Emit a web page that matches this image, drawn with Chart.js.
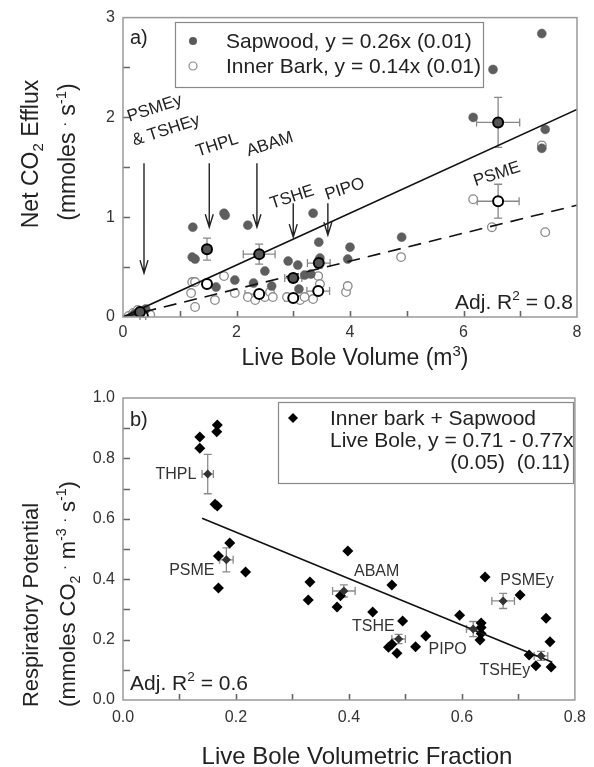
<!DOCTYPE html>
<html>
<head>
<meta charset="utf-8">
<script src="https://cdn.jsdelivr.net/npm/chart.js@4.4.1/dist/chart.umd.min.js"></script>
<style>
  body { margin: 0; background: #fff; }
  #wrap { position: relative; width: 594px; height: 767px; }
  canvas { position: absolute; left: 0; }
  #chartA { top: 0; }
  #chartB { top: 380px; }
</style>
</head>
<body>
<div id="wrap">
  <canvas id="chartA" width="594" height="380"></canvas>
  <canvas id="chartB" width="594" height="387"></canvas>
</div>
<script>
const FONT = '"Liberation Sans", Arial, sans-serif';

// ---- panel a: net CO2 efflux vs live bole volume ----
const sapX = [0.20, 0.30, 0.40, 1.23, 1.78, 1.80, 2.20, 1.22, 1.27, 1.97, 1.64, 2.30, 2.50, 2.62, 2.91, 3.08, 3.10, 3.20, 3.31, 3.35, 3.45, 3.47, 3.96, 4.00, 4.91, 6.17, 6.52, 7.38, 7.44, 7.38];
const sapY = [0.03, 0.06, 0.08, 0.90, 1.04, 1.02, 0.92, 0.60, 0.58, 0.37, 0.30, 0.34, 0.46, 0.31, 0.56, 0.52, 0.28, 0.42, 0.43, 1.04, 0.75, 0.59, 0.58, 0.70, 0.80, 2.00, 2.48, 2.84, 1.88, 1.69];
const innerX = [0.10, 0.18, 0.26, 0.40, 0.48, 1.22, 1.27, 1.20, 1.27, 1.62, 1.78, 1.97, 2.20, 2.33, 2.50, 2.59, 2.64, 2.89, 3.12, 3.20, 3.35, 3.44, 3.47, 3.93, 3.96, 4.90, 6.17, 6.50, 7.44, 7.38];
const innerY = [0.01, 0.04, 0.07, 0.05, 0.02, 0.35, 0.35, 0.24, 0.10, 0.17, 0.41, 0.24, 0.20, 0.17, 0.20, 0.25, 0.20, 0.20, 0.17, 0.20, 0.18, 0.41, 0.33, 0.25, 0.31, 0.60, 1.18, 0.90, 0.85, 1.72];

const speciesA = ['PSMEy', 'THPL', 'ABAM', 'TSHE', 'PIPO', 'PSME'];
const sapMeanX = [0.30, 1.48, 2.40, 3.00, 3.45, 6.61];
const sapMeanY = [0.05, 0.68, 0.63, 0.39, 0.54, 1.95];
const sapMeanXErr = [0.05, 0.07, 0.28, 0.15, 0.20, 0.38];
const sapMeanYErr = [0.02, 0.11, 0.10, 0.04, 0.05, 0.25];
const innerMeanX = [0.35, 1.48, 2.40, 3.00, 3.44, 6.61];
const innerMeanY = [0.01, 0.33, 0.23, 0.19, 0.26, 1.16];
const innerMeanXErr = [0.05, 0.07, 0.25, 0.15, 0.20, 0.37];
const innerMeanYErr = [0.01, 0.03, 0.03, 0.02, 0.03, 0.17];

const fitAX = [0, 8];
const fitSapY = [0, 2.08];
const fitInnerY = [0, 1.12];

const arrowX = [0.37, 1.52, 2.36, 3.00, 3.61];
const arrowTop = [1.54, 1.54, 1.54, 1.14, 1.14];
const arrowTip = [0.44, 0.90, 0.90, 0.80, 0.82];

const labA = ['PSMEy', '& TSHEy', 'THPL', 'ABAM', 'TSHE', 'PIPO', 'PSME'];
const labAX = [0.56, 0.76, 1.66, 2.59, 2.98, 3.91, 6.59];
const labAY = [2.09, 1.87, 1.72, 1.73, 1.20, 1.28, 1.43];

const xTicksA = [0, 2, 4, 6, 8];
const yTicksA = [0, 1, 2, 3];
const xMarksA = [1, 2, 3, 4, 5, 6, 7];
const yMarksA = [0.5, 1, 1.5, 2, 2.5];

// ---- panel b: respiratory potential vs volumetric fraction ----
const bolX = [0.136, 0.136, 0.167, 0.166, 0.167, 0.163, 0.189, 0.169, 0.169, 0.217, 0.331, 0.328, 0.398, 0.385, 0.379, 0.442, 0.476, 0.495, 0.470, 0.476, 0.485, 0.518, 0.536, 0.596, 0.634, 0.634, 0.634, 0.632, 0.641, 0.703, 0.749, 0.756, 0.719, 0.731, 0.758];
const bolY = [0.871, 0.834, 0.911, 0.888, 0.642, 0.648, 0.520, 0.477, 0.371, 0.424, 0.391, 0.331, 0.493, 0.345, 0.308, 0.291, 0.381, 0.262, 0.175, 0.185, 0.155, 0.176, 0.212, 0.281, 0.255, 0.240, 0.220, 0.199, 0.407, 0.348, 0.271, 0.193, 0.149, 0.113, 0.109];

const speciesB = ['THPL', 'PSME', 'ABAM', 'TSHE', 'PIPO', 'PSMEy', 'TSHEy'];
const bolMeanX = [0.150, 0.183, 0.391, 0.488, 0.620, 0.673, 0.740];
const bolMeanY = [0.748, 0.464, 0.361, 0.202, 0.235, 0.328, 0.146];
const bolMeanXErr = [0.010, 0.012, 0.020, 0.012, 0.012, 0.020, 0.012];
const bolMeanYErr = [0.065, 0.040, 0.020, 0.015, 0.025, 0.025, 0.015];

const fitBX = [0.14, 0.76];
const fitBY = [0.602, 0.125];

const labBX = [0.130, 0.162, 0.409, 0.481, 0.541, 0.668, 0.721];
const labBY = [0.745, 0.430, 0.424, 0.242, 0.166, 0.397, 0.099];
const labBAlign = ['right', 'right', 'left', 'right', 'left', 'left', 'right'];

const xTicksB = [0, 0.2, 0.4, 0.6, 0.8];
const yTicksB = [0, 0.2, 0.4, 0.6, 0.8, 1.0];
const xMarksB = [0.1, 0.2, 0.3, 0.4, 0.5, 0.6, 0.7];
const yMarksB = [0.1, 0.2, 0.3, 0.4, 0.5, 0.6, 0.7, 0.8, 0.9];

function pts(xs, ys) {
    return xs.map((x, i) => ({ x: x, y: ys[i] }));
}

// text with sub/superscripts, centred on (x, y)
function richText(ctx, parts, x, y, size, rot) {
    ctx.save();
    ctx.translate(x, y);
    ctx.rotate(rot || 0);
    ctx.textAlign = 'left';
    ctx.textBaseline = 'alphabetic';
    let w = 0;
    const widths = parts.map(p => {
        ctx.font = (p[1] ? size * 0.65 : size) + 'px ' + FONT;
        const pw = ctx.measureText(p[0]).width;
        w += pw;
        return pw;
    });
    let cx = -w / 2;
    parts.forEach((p, i) => {
        ctx.font = (p[1] ? size * 0.65 : size) + 'px ' + FONT;
        let dy = 0;
        if (p[1] === 'sub') dy = size * 0.22;
        if (p[1] === 'sup') dy = -size * 0.42;
        ctx.fillText(p[0], cx, size * 0.36 + dy);
        cx += widths[i];
    });
    ctx.restore();
}

function drawFrame(chart, xMarks, yMarks) {
    const ctx = chart.ctx, a = chart.chartArea;
    const xs = chart.scales.x, ys = chart.scales.y;
    ctx.save();
    ctx.strokeStyle = '#666';
    ctx.lineWidth = 1.6;
    ctx.beginPath();
    xMarks.forEach(v => {
        const px = Math.round(xs.getPixelForValue(v)) + 0.5;
        ctx.moveTo(px, a.bottom);
        ctx.lineTo(px, a.bottom - 6);
    });
    yMarks.forEach(v => {
        const py = Math.round(ys.getPixelForValue(v)) + 0.5;
        ctx.moveTo(a.left, py);
        ctx.lineTo(a.left + 7, py);
    });
    ctx.stroke();
    ctx.strokeStyle = '#999';
    ctx.lineWidth = 1.5;
    ctx.strokeRect(a.left, a.top, a.right - a.left, a.bottom - a.top);
    ctx.restore();
}

function errorBars(chart, mx, my, ex, ey, color) {
    const ctx = chart.ctx, xs = chart.scales.x, ys = chart.scales.y;
    ctx.save();
    ctx.strokeStyle = color;
    ctx.lineWidth = 1.3;
    ctx.beginPath();
    mx.forEach((x, i) => {
        const px = xs.getPixelForValue(x), py = ys.getPixelForValue(my[i]);
        const x0 = xs.getPixelForValue(x - ex[i]), x1 = xs.getPixelForValue(x + ex[i]);
        const y0 = ys.getPixelForValue(my[i] - ey[i]), y1 = ys.getPixelForValue(my[i] + ey[i]);
        ctx.moveTo(x0, py); ctx.lineTo(x1, py);
        ctx.moveTo(x0, py - 4); ctx.lineTo(x0, py + 4);
        ctx.moveTo(x1, py - 4); ctx.lineTo(x1, py + 4);
        ctx.moveTo(px, y0); ctx.lineTo(px, y1);
        ctx.moveTo(px - 4, y0); ctx.lineTo(px + 4, y0);
        ctx.moveTo(px - 4, y1); ctx.lineTo(px + 4, y1);
    });
    ctx.stroke();
    ctx.restore();
}

const tickFont = size => ({ size: size, family: FONT });

function axes(xMin, xMax, yMin, yMax, xTicks, yTicks, yWidth, xHeight, size, digits, xPad) {
    const fmt = v => digits ? v.toFixed(digits) : String(v);
    return {
        x: {
            type: 'linear', min: xMin, max: xMax,
            afterBuildTicks: s => { s.ticks = xTicks.map(v => ({ value: v })); },
            afterFit: s => { s.height = xHeight; },
            grid: { display: false, drawTicks: false, tickLength: 0 },
            border: { display: false },
            ticks: { color: '#333', font: tickFont(size), padding: xPad, maxRotation: 0, callback: fmt }
        },
        y: {
            type: 'linear', min: yMin, max: yMax,
            afterBuildTicks: s => { s.ticks = yTicks.map(v => ({ value: v })); },
            afterFit: s => { s.width = yWidth; },
            grid: { display: false, drawTicks: false, tickLength: 0 },
            border: { display: false },
            ticks: { color: '#333', font: tickFont(size), padding: 8, callback: fmt }
        }
    };
}

// ---------------- chart a ----------------
const decorA = {
    id: 'decorA',
    beforeDatasetsDraw(chart) {
        errorBars(chart, sapMeanX, sapMeanY, sapMeanXErr, sapMeanYErr, '#888');
        errorBars(chart, innerMeanX, innerMeanY, innerMeanXErr, innerMeanYErr, '#888');
    },
    afterDatasetsDraw(chart) {
        const ctx = chart.ctx, xs = chart.scales.x, ys = chart.scales.y;
        drawFrame(chart, xMarksA, yMarksA);

        // arrows
        ctx.save();
        ctx.strokeStyle = '#222';
        ctx.lineWidth = 1.4;
        ctx.beginPath();
        arrowX.forEach((x, i) => {
            const px = xs.getPixelForValue(x);
            const top = ys.getPixelForValue(arrowTop[i]), tip = ys.getPixelForValue(arrowTip[i]);
            ctx.moveTo(px, top); ctx.lineTo(px, tip);
            ctx.moveTo(px - 4, tip - 13); ctx.lineTo(px, tip); ctx.lineTo(px + 4, tip - 13);
        });
        ctx.stroke();

        // species labels
        ctx.fillStyle = '#222';
        ctx.font = '17px ' + FONT;
        ctx.textAlign = 'center';
        ctx.textBaseline = 'middle';
        labA.forEach((t, i) => {
            ctx.save();
            ctx.translate(xs.getPixelForValue(labAX[i]), ys.getPixelForValue(labAY[i]));
            ctx.rotate(-18 * Math.PI / 180);
            ctx.fillText(t, 0, 0);
            ctx.restore();
        });

        // legend
        ctx.fillStyle = '#fff';
        ctx.fillRect(175, 22, 308, 65);
        ctx.strokeStyle = '#888';
        ctx.lineWidth = 1.2;
        ctx.strokeRect(175.5, 22.5, 308, 65);
        ctx.fillStyle = '#5a5a5a';
        ctx.beginPath(); ctx.arc(193, 41, 4, 0, Math.PI * 2); ctx.fill();
        ctx.fillStyle = '#fff';
        ctx.strokeStyle = '#888';
        ctx.beginPath(); ctx.arc(193, 66, 4, 0, Math.PI * 2); ctx.fill(); ctx.stroke();
        ctx.fillStyle = '#222';
        ctx.font = '21px ' + FONT;
        ctx.textAlign = 'left';
        ctx.fillText('Sapwood, y = 0.26x (0.01)', 226, 42);
        ctx.fillText('Inner Bark, y = 0.14x (0.01)', 226, 67);

        ctx.font = '20px ' + FONT;
        ctx.fillText('a)', 130, 38);
        ctx.restore();

        ctx.fillStyle = '#222';
        richText(ctx, [['Adj. R'], ['2', 'sup'], [' = 0.8']], 514, 301, 21, 0);

        // axis titles
        richText(ctx, [['Net CO'], ['2', 'sub'], [' Efflux']], 30, 154, 23, -Math.PI / 2);
        richText(ctx, [['(mmoles '], ['.', 'sup'], [' s'], ['-1', 'sup'], [')']], 67, 152, 23, -Math.PI / 2);
        richText(ctx, [['Live Bole Volume (m'], ['3', 'sup'], [')']], 355, 357, 23, 0);
    }
};

new Chart(document.getElementById('chartA'), {
    type: 'scatter',
    data: {
        datasets: [
            {
                label: 'Sapwood means', data: pts(sapMeanX, sapMeanY), order: 0,
                pointRadius: 5, backgroundColor: '#555', borderColor: '#000', borderWidth: 2
            },
            {
                label: 'Inner bark means', data: pts(innerMeanX, innerMeanY), order: 0,
                pointRadius: 5, backgroundColor: '#fff', borderColor: '#000', borderWidth: 2
            },
            {
                label: 'Sapwood fit', data: pts(fitAX, fitSapY), order: 1, showLine: true,
                pointRadius: 0, borderColor: '#111', borderWidth: 1.6
            },
            {
                label: 'Inner bark fit', data: pts(fitAX, fitInnerY), order: 1, showLine: true,
                pointRadius: 0, borderColor: '#111', borderWidth: 1.6, borderDash: [13, 8]
            },
            {
                label: 'Sapwood', data: pts(sapX, sapY), order: 2,
                pointRadius: 4.5, backgroundColor: '#5e5e5e', borderColor: '#5e5e5e', borderWidth: 0.5
            },
            {
                label: 'Inner Bark', data: pts(innerX, innerY), order: 2,
                pointRadius: 4.3, backgroundColor: '#fff', borderColor: '#8a8a8a', borderWidth: 1.3
            }
        ]
    },
    options: {
        responsive: false,
        animation: false,
        devicePixelRatio: 1,
        layout: { padding: { top: 17, right: 17, left: 0, bottom: 0 } },
        plugins: { legend: { display: false }, tooltip: { enabled: false } },
        scales: axes(0, 8, 0, 3, xTicksA, yTicksA, 123, 63, 16, 0, 6)
    },
    plugins: [decorA]
});

// ---------------- chart b ----------------
const decorB = {
    id: 'decorB',
    beforeDatasetsDraw(chart) {
        errorBars(chart, bolMeanX, bolMeanY, bolMeanXErr, bolMeanYErr, '#8a8a8a');
    },
    afterDatasetsDraw(chart) {
        const ctx = chart.ctx, xs = chart.scales.x, ys = chart.scales.y;
        drawFrame(chart, xMarksB, yMarksB);

        ctx.save();
        ctx.fillStyle = '#333';
        ctx.font = '16px ' + FONT;
        ctx.textBaseline = 'middle';
        speciesB.forEach((t, i) => {
            ctx.textAlign = labBAlign[i];
            ctx.fillText(t, xs.getPixelForValue(labBX[i]), ys.getPixelForValue(labBY[i]));
        });

        // legend
        ctx.fillStyle = '#fff';
        ctx.fillRect(278, 22, 295, 81);
        ctx.strokeStyle = '#888';
        ctx.lineWidth = 1.2;
        ctx.strokeRect(278.5, 22.5, 295, 81);
        ctx.fillStyle = '#000';
        ctx.beginPath();
        ctx.moveTo(293, 33); ctx.lineTo(298, 38); ctx.lineTo(293, 43); ctx.lineTo(288, 38);
        ctx.closePath(); ctx.fill();
        ctx.fillStyle = '#222';
        ctx.font = '21px ' + FONT;
        ctx.textAlign = 'left';
        ctx.fillText('Inner bark + Sapwood', 330, 39);
        ctx.fillText('Live Bole, y = 0.71 - 0.77x', 330, 61);
        ctx.textAlign = 'right';
        ctx.fillText('(0.05)  (0.11)', 570, 83);

        ctx.textAlign = 'left';
        ctx.font = '20px ' + FONT;
        ctx.fillText('b)', 130, 40);
        ctx.restore();

        ctx.fillStyle = '#222';
        richText(ctx, [['Adj. R'], ['2', 'sup'], [' = 0.6']], 189, 302, 21, 0);

        richText(ctx, [['Respiratory Potential']], 30, 225, 22, -Math.PI / 2);
        richText(ctx, [['(mmoles CO'], ['2', 'sub'], [' '], ['.', 'sup'], [' m'], ['-3', 'sup'], [' '], ['.', 'sup'], [' s'], ['-1', 'sup'], [')']], 67, 214, 22, -Math.PI / 2);
        richText(ctx, [['Live Bole Volumetric Fraction']], 357, 375, 24, 0);
    }
};

new Chart(document.getElementById('chartB'), {
    type: 'scatter',
    data: {
        datasets: [
            {
                label: 'Species means', data: pts(bolMeanX, bolMeanY), order: 0,
                pointStyle: 'rectRot', pointRadius: 4.5, backgroundColor: '#333', borderColor: '#333', borderWidth: 0
            },
            {
                label: 'Fit', data: pts(fitBX, fitBY), order: 1, showLine: true,
                pointRadius: 0, borderColor: '#111', borderWidth: 1.6
            },
            {
                label: 'Inner bark + Sapwood', data: pts(bolX, bolY), order: 2,
                pointStyle: 'rectRot', pointRadius: 5.5, backgroundColor: '#000', borderColor: '#000', borderWidth: 0
            }
        ]
    },
    options: {
        responsive: false,
        animation: false,
        devicePixelRatio: 1,
        layout: { padding: { top: 18, right: 17, left: 0, bottom: 0 } },
        plugins: { legend: { display: false }, tooltip: { enabled: false } },
        scales: axes(0, 0.8, 0, 1, xTicksB, yTicksB, 123, 67, 16, 1, 8)
    },
    plugins: [decorB]
});
</script>
</body>
</html>
